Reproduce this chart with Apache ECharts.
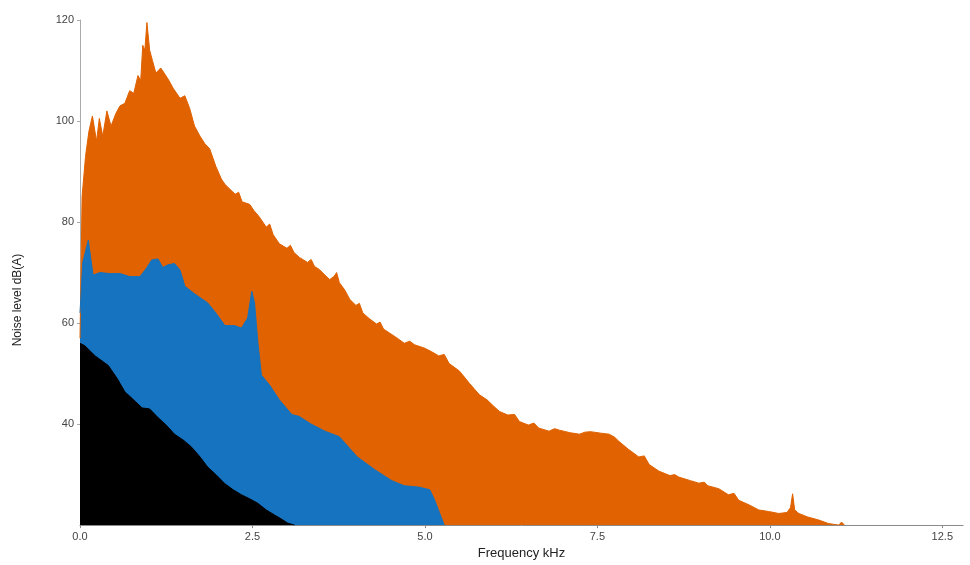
<!DOCTYPE html>
<html>
<head>
<meta charset="utf-8">
<script src="https://cdn.jsdelivr.net/npm/echarts@6/dist/echarts.min.js"></script>
<style>html,body{margin:0;padding:0;background:#fff}#c{width:970px;height:565px}</style>
</head>
<body>
<div id="c"></div>
<script>
// Orange (loudest) spectrum
const freqOrange = [0.00,0.03,0.08,0.13,0.18,0.24,0.28,0.33,0.39,0.45,0.52,0.58,0.65,0.72,0.78,0.84,0.88,0.91,0.94,0.97,1.01,1.05,1.10,1.17,1.22,1.29,1.35,1.45,1.52,1.59,1.66,1.74,1.81,1.88,1.97,2.05,2.10,2.15,2.25,2.30,2.35,2.46,2.52,2.60,2.70,2.75,2.80,2.89,3.00,3.05,3.10,3.18,3.30,3.35,3.40,3.47,3.55,3.62,3.68,3.72,3.76,3.84,3.91,4.00,4.05,4.10,4.20,4.30,4.35,4.40,4.49,4.60,4.70,4.78,4.85,5.00,5.10,5.20,5.28,5.35,5.50,5.65,5.79,5.90,6.00,6.08,6.20,6.30,6.37,6.50,6.58,6.65,6.80,6.88,6.95,7.10,7.24,7.32,7.40,7.55,7.67,7.75,7.81,7.95,8.10,8.18,8.25,8.39,8.55,8.62,8.68,8.85,8.97,9.05,9.10,9.26,9.40,9.48,9.55,9.70,9.84,9.98,10.13,10.25,10.30,10.33,10.36,10.42,10.55,10.71,10.85,11.00,11.04,11.08];
const levelOrange = [57,85,93,98,101,96,100.5,97,102,99,101.5,103,103.5,106,105.5,109,108,115,114,119.5,114,112,109.5,110.5,109.5,108,106.5,104.5,105,102.5,99,97,95.5,94.5,91,88.5,87.5,86.8,85.5,85.9,84,83.5,82.3,81,79,79.6,77.5,75.7,74.8,75.4,74,73,72,72.6,71.2,70.6,69.5,68.6,69.2,70,68,66.5,64.7,63.5,63.9,62,60.8,59.8,60.2,58.8,58,57,56,56.4,55.7,55,54.3,53.5,53.8,52,50.5,48,45.8,44.8,43.5,42.5,41.8,41.9,40.5,39.8,40.2,39.2,38.6,39.1,38.8,38.3,38,38.4,38.5,38.2,38,37.4,36.6,35,33.5,33.7,32,30.7,29.8,30,29.5,28.8,28.3,28.5,27.8,27.2,26,26.3,24.9,24,23,22.7,22.3,22.5,23.5,26.2,23,22.3,21.6,21,20.3,20,20.6,20];

// Blue spectrum
const freqBlue = [0.00,0.04,0.12,0.19,0.29,0.43,0.58,0.72,0.87,0.97,1.04,1.13,1.20,1.27,1.37,1.45,1.52,1.66,1.85,1.97,2.10,2.24,2.34,2.43,2.49,2.53,2.58,2.63,2.75,2.89,3.07,3.18,3.35,3.55,3.76,4.02,4.27,4.52,4.70,4.92,5.07,5.14,5.21,5.28];
const levelBlue = [62,72,76.4,69.5,70,69.8,69.8,69.2,69.2,71,72.5,72.7,71,71.5,71.8,70.5,67.3,65.8,64,62,59.5,59.5,59,61,66.3,64,56,49.7,47.7,44.8,41.9,41.5,40,38.6,37.5,33.5,31,28.8,27.8,27.5,27,25,22.5,20];

// Black spectrum
const freqBlack = [0.00,0.07,0.22,0.41,0.54,0.65,0.80,0.90,1.01,1.13,1.25,1.37,1.50,1.62,1.74,1.85,1.97,2.10,2.22,2.34,2.46,2.58,2.70,2.82,2.92,3.01,3.11];
const levelBlack = [56,55.5,53.5,51.6,49,46.4,44.5,43.2,43,41.3,39.8,38,36.8,35.4,33.5,31.5,30,28.2,27,26,25.2,24.3,23,22,21.2,20.4,20];

const xTicks = [0, 2.5, 5, 7.5, 10, 12.5];
const yTicks = [40, 60, 80, 100, 120];

function pairs(xs, ys){ return xs.map((x,i)=>[x, ys[i]]); }

const chart = echarts.init(document.getElementById('c'), null, {renderer:'canvas'});
const font = 'Liberation Sans, Arial, sans-serif';
function area(name, xs, ys, color){
  return {
    name, type:'line', data: pairs(xs, ys), showSymbol:false, symbol:'none',
    lineStyle:{width:1, color}, itemStyle:{color},
    areaStyle:{color, opacity:1, origin:'start'}, animation:false
  };
}
chart.setOption({
  animation:false,
  grid:{left:80, right:7, top:20, bottom:33, containLabel:false},
  xAxis:{
    type:'value', min:0, max:12.8, interval:2.5,
    axisLine:{show:true, lineStyle:{color:'#8a8a8a', width:1}},
    axisTick:{show:true, length:3, lineStyle:{color:'#8a8a8a'}},
    splitLine:{show:false},
    axisLabel:{color:'#444', fontFamily:font, fontSize:11, margin:6, showMaxLabel:false,
      formatter:v=> xTicks.indexOf(v) >= 0 ? v.toFixed(1) : ''},
    name:'Frequency kHz', nameLocation:'middle', nameGap:21,
    nameTextStyle:{color:'#222', fontFamily:font, fontSize:13}
  },
  yAxis:{
    type:'value', min:20, max:120, interval:20,
    axisLine:{show:true, lineStyle:{color:'#aaaaaa', width:1}},
    axisTick:{show:true, length:3, lineStyle:{color:'#aaaaaa'}},
    splitLine:{show:false},
    axisLabel:{color:'#444', fontFamily:font, fontSize:11, margin:6, showMinLabel:false,
      formatter:v=> yTicks.indexOf(v) >= 0 ? String(v) : ''}
  },
  graphic:[{
    type:'text', x:18, y:300, rotation:Math.PI/2,
    style:{text:'Noise level dB(A)', fill:'#222', font:'12px Liberation Sans, Arial, sans-serif',
      textAlign:'center', textVerticalAlign:'middle'}
  }],
  series:[
    area('Orange', freqOrange, levelOrange, '#e06200'),
    area('Blue', freqBlue, levelBlue, '#1673bf'),
    area('Black', freqBlack, levelBlack, '#000000')
  ]
});
</script>
</body>
</html>
